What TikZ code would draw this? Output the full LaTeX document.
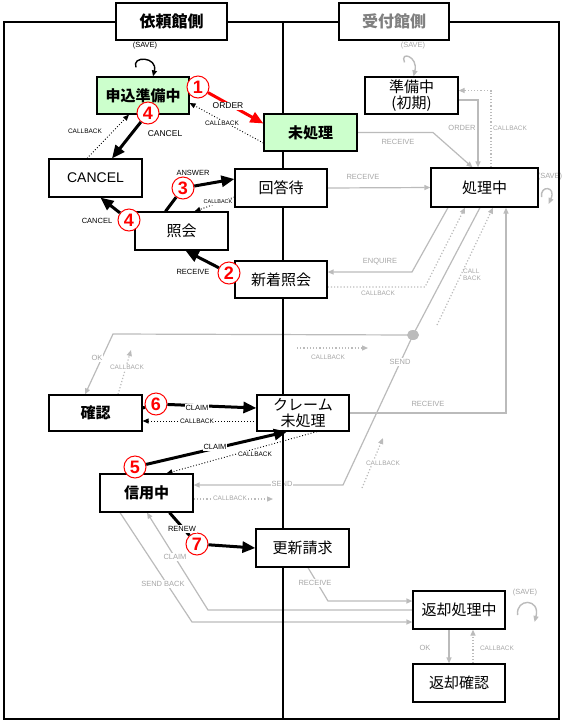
\documentclass[tikz,border=0pt]{standalone}
\usepackage{fontspec}
\setmainfont{Liberation Sans}
\newfontfamily\jp{Noto Sans CJK JP}
\usetikzlibrary{arrows.meta}

\definecolor{paleGreen}{HTML}{CCFFCC}
\definecolor{lineGray}{HTML}{BBBBBB}
\definecolor{textGray}{HTML}{A6A6A6}
\definecolor{headGray}{HTML}{808080}

\pgfdeclarelayer{background}
\pgfsetlayers{background,main}

\tikzset{
  box/.style={draw, line width=1.2pt, fill=white, minimum width=92pt,
    minimum height=37pt, inner sep=0pt, align=center,
    font=\jp\fontsize{15}{16}\selectfont},
  boldbox/.style={box, font=\jp\bfseries\fontsize{15}{16}\selectfont},
  greenbox/.style={boldbox, fill=paleGreen},
  headbox/.style={box, minimum width=111pt, font=\jp\bfseries\fontsize{16}{18}\selectfont},
  num/.style={circle, draw=red, fill=white, text=red, line width=1pt,
    minimum size=22pt, inner sep=0pt, font=\bfseries\fontsize{18}{18}\selectfont},
  lbl/.style={font=\fontsize{7.5}{8}\selectfont, inner sep=1pt},
  cbl/.style={lbl, font=\fontsize{6.5}{7}\selectfont},
  lblw/.style={lbl, fill=white},
  cblw/.style={cbl, fill=white},
  glbl/.style={lbl, text=textGray},
  glblw/.style={glbl, fill=white},
  gcbl/.style={cbl, text=textGray},
  gcblw/.style={gcbl, fill=white},
  bigarrow/.style={line width=3pt, -{Triangle[length=13pt,width=11pt]}},
  cb/.style={dotted, line width=0.9pt, -{Triangle[length=6pt,width=5pt]}},
  gline/.style={draw=lineGray, line width=1.2pt, -{Triangle[length=6pt,width=5pt]}},
  gcb/.style={gline, dotted},
  loopline/.style={line width=1.4pt, -{Triangle[length=6pt,width=5pt]}},
}

\begin{document}
\begin{tikzpicture}[x=1pt,y=-1pt]
    \useasboundingbox (0,0) rectangle (565,724);

    % Draw the column headers
    \node[headbox] (iraiHead) at (171.5,21.5) {依頼館側};
    \node[headbox, minimum width=110pt, text=headGray] (uketsukeHead) at (394,21.5) {受付館側};

    % Draw the states of the requesting library
    \node[greenbox] (moshikomi) at (143,95.5) {申込準備中};
    \node[box, minimum width=93pt, minimum height=38pt, font=\fontsize{14}{16}\selectfont] (cancel) at (95.5,178) {CANCEL};
    \node[box, minimum width=93pt, minimum height=38pt] (shokai) at (181.5,231) {照会};
    \node[box, minimum height=38pt] (kaitou) at (281,188) {回答待};
    \node[greenbox, minimum width=93pt] (mishori) at (310.5,132.5) {未処理};
    \node[box] (shinchaku) at (281,279.5) {新着照会};
    \node[boldbox, minimum width=93pt, minimum height=36pt] (kakunin) at (95.5,413) {確認};
    \node[box, minimum height=36pt] (claim) at (303,413) {クレーム\\未処理};
    \node[boldbox, minimum width=93pt, minimum height=38pt] (shinyou) at (146.5,493) {信用中};
    \node[box, minimum width=93pt, minimum height=38pt] (koushin) at (302.5,548) {更新請求};

    % Draw the states of the receiving library
    \node[box, minimum width=93pt] (junbi) at (411.5,95.5) {準備中\\(初期)};
    \node[box, minimum width=107pt, minimum height=39pt] (shori) at (484.5,187.5) {処理中};
    \node[box, minimum height=38pt] (henkyaku) at (459,610) {返却処理中};
    \node[box, minimum height=38pt] (henkakunin) at (459,683) {返却確認};

    % Draw the numbered steps
    \foreach \n/\x/\y/\t in {n1/198/87/1, n4a/148/113/4, n3/183/188/3, n4b/129/220/4,
                             n2/229/273/2, n6/156/404/6, n5/135/467/5, n7/197/544/7} {
        \node[num] (\n) at (\x,\y) {\t};
    }

    % Bends and loose ends of the grey lines
    \coordinate (rcvBend) at (433,132.5);
    \coordinate (enqBend) at (412,272);
    \coordinate (cbBend) at (425,287);
    \coordinate (sendHub) at (413,335);
    \coordinate (sendBend) at (343,485);
    \coordinate (okBend) at (113,334);
    \coordinate (cbStubA) at (131,350);
    \coordinate (cbStubB) at (297,348);
    \coordinate (cbStubC) at (368,348);
    \coordinate (cbStubD) at (437,325);
    \coordinate (cbStubE) at (362,488);
    \coordinate (cbStubF) at (383,438);
    \coordinate (cbStubG) at (273,499);
    \coordinate (clmBend) at (208,610);
    \coordinate (sbBend) at (192,622);
    \coordinate (rcvBend2) at (328,601);

    \begin{pgfonlayer}{background}
        % Grey transitions of the receiving library
        \draw[gline, line width=1.4pt] ([shift={(-7pt,14pt)}]junbi.north) .. controls +(-5pt,12pt) and +(5pt,20pt) .. ([xshift=2pt]junbi.north);
        \draw[gline] ([yshift=-4.5pt]junbi.east) -| ([xshift=-6.5pt]shori.north);
        \draw[gcb] ([xshift=6.5pt]shori.north) |- ([yshift=5pt]junbi.east);
        \draw[gline] (mishori.east) -- (rcvBend) -- ([xshift=-12pt]shori.north);
        \draw[gline] (kaitou.east) -- (shori.west);
        \draw[gline, line width=1.4pt] ([shift={(3pt,-9.5pt)}]shori.east) .. controls +(-2pt,12pt) and +(8pt,18pt) .. ([shift={(10pt,-16.5pt)}]shori.east);
        \draw[gline] ([xshift=-36.5pt]shori.south) -- (enqBend) -- ([yshift=7.5pt]shinchaku.east);
        \draw[gcb] ([yshift=-7.5pt]shinchaku.east) -- (cbBend) -- ([xshift=-19.5pt]shori.south);
        \draw[gline] ([xshift=-4.5pt]shori.south) -- (sendHub) -- (sendBend) -- ([yshift=8pt]shinyou.east);
        \fill[lineGray] (sendHub) ellipse (6pt and 5pt);
        \draw[gline] (sendHub) -- (okBend) -- ([xshift=-10.5pt]kakunin.north);
        \draw[gcb] ([xshift=22.5pt]kakunin.north) -- (cbStubA);
        \draw[gcb] (cbStubB) -- (cbStubC);
        \draw[gcb] (cbStubD) -- ([xshift=8.5pt]shori.south);
        \draw[gline] (claim.east) -| ([xshift=21.5pt]shori.south);
        \draw[gcb] (cbStubE) -- (cbStubF);
        \draw[gcb] ([yshift=-6pt]shinyou.east) -- (cbStubG);
        \draw[gline] (henkyaku.west) -- (clmBend) -- ([xshift=0.5pt]shinyou.south);
        \draw[gline] ([xshift=-26.5pt]shinyou.south) -- (sbBend) -- ([yshift=-12pt]henkyaku.west);
        \draw[gline] ([xshift=5.5pt]koushin.south) -- (rcvBend2) -- ([yshift=9pt]henkyaku.west);
        \draw[gline] ([xshift=-10pt]henkyaku.south) -- ([xshift=-10pt]henkakunin.north);
        \draw[gcb] ([xshift=14pt]henkakunin.north) -- ([xshift=14pt]henkyaku.south);
        \draw[gline, line width=1.4pt] ([shift={(12pt,-5pt)}]henkyaku.east) .. controls +(-2pt,17pt) and +(6pt,24pt) .. ([shift={(29pt,-12pt)}]henkyaku.east);

        % Grey labels
        \node[glbl] (gSave1) at (413,46) {(SAVE)};
        \node[glbl] (gOrder) at (462,128) {ORDER};
        \node[gcbl] (gCb1) at (510,128) {CALLBACK};
        \node[glbl] (gRcv1) at (398,142) {RECEIVE};
        \node[glbl] (gRcv2) at (363,177) {RECEIVE};
        \node[glbl] (gSave2) at (550,177) {(SAVE)};
        \node[glbl] (gEnq) at (380,262) {ENQUIRE};
        \node[gcbl] (gCb2) at (378,293) {CALLBACK};
        \node[gcbl, align=left] (gCb3) at (472,275) {CALL\\BACK};
        \node[glblw] (gSend1) at (400,362) {SEND};
        \node[glblw] (gOk1) at (97,358) {OK};
        \node[gcblw] (gCb4) at (127,367) {CALLBACK};
        \node[gcbl] (gCb5) at (328,357) {CALLBACK};
        \node[glbl] (gRcv3) at (428,404) {RECEIVE};
        \node[gcblw] (gCb6) at (383,463) {CALLBACK};
        \node[glblw] (gSend2) at (282,484) {SEND};
        \node[gcblw] (gCb7) at (230,498) {CALLBACK};
        \node[glblw] (gClaim) at (175,557) {CLAIM};
        \node[glblw] (gSendBack) at (163,584) {SEND BACK};
        \node[glblw] (gRcv4) at (315,583) {RECEIVE};
        \node[glbl] (gSave3) at (525,593) {(SAVE)};
        \node[glbl] (gOk2) at (425,648) {OK};
        \node[gcbl] (gCb8) at (497,648) {CALLBACK};

        % Draw the frame and the column divider
        \draw[line width=2.5pt] (4,22) rectangle (559,719);
        \draw[line width=2.5pt] (283,22) -- (283,719);
    \end{pgfonlayer}

    % Transitions of the requesting library
    \draw[loopline] ([shift={(-7pt,9pt)}]moshikomi.north) .. controls +(-5pt,12pt) and +(5pt,20pt) .. ([xshift=10pt]moshikomi.north);
    \draw[bigarrow, red] (n1) -- ([yshift=9pt]mishori.west);
    \draw[cb] ([yshift=-10.5pt]mishori.west) -- ([yshift=-7.5pt]moshikomi.east);
    \draw[bigarrow] (n4a) -- ([xshift=16.5pt]cancel.north);
    \draw[cb] ([xshift=-8.5pt]cancel.north) -- ([xshift=-14pt]moshikomi.south);
    \draw[bigarrow] ([xshift=-16pt]shokai.north) -- (n3) -- ([yshift=9pt]kaitou.west);
    \draw[cb] ([yshift=-9pt]kaitou.west) -- ([xshift=13pt]shokai.north);
    \draw[bigarrow] (n4b) -- ([xshift=5pt]cancel.south);
    \draw[bigarrow] (n2) -- ([xshift=4pt]shokai.south);
    \draw[bigarrow] ([yshift=5pt]kakunin.east) -- (n6) -- ([yshift=5pt]claim.west);
    \draw[cb] ([yshift=-8pt]claim.west) -- ([yshift=-8pt]kakunin.east);
    \draw[bigarrow] (n5) -- ([xshift=-16pt]claim.south);
    \draw[cb] ([xshift=14pt]claim.south) -- ([xshift=20pt]shinyou.north);
    \draw[bigarrow] ([xshift=23pt]shinyou.south) -- (n7) -- (koushin.west);

    % Labels of the requesting library
    \node[lbl] (lSave) at (145,46) {(SAVE)};
    \node[lblw, font=\fontsize{8.5}{9}\selectfont] (lOrder) at (228,106) {ORDER};
    \node[cblw] (lCb1) at (222,123) {CALLBACK};
    \node[lbl, font=\fontsize{8.5}{9}\selectfont] (lCancel1) at (165,134) {CANCEL};
    \node[cbl] (lCb2) at (85,131) {CALLBACK};
    \node[lbl] (lAnswer) at (193,173) {ANSWER};
    \node[cblw, font=\fontsize{5.5}{6}\selectfont] (lCb3) at (218,202) {CALLBACK};
    \node[lbl] (lCancel2) at (97,221) {CANCEL};
    \node[lbl] (lRcv) at (193,272) {RECEIVE};
    \node[lblw] (lClaim1) at (197,408) {CLAIM};
    \node[cblw] (lCb4) at (197,421) {CALLBACK};
    \node[lblw] (lClaim2) at (215,447) {CLAIM};
    \node[cblw] (lCb5) at (255,454) {CALLBACK};
    \node[lblw] (lRenew) at (182,529) {RENEW};

\end{tikzpicture}
\end{document}
